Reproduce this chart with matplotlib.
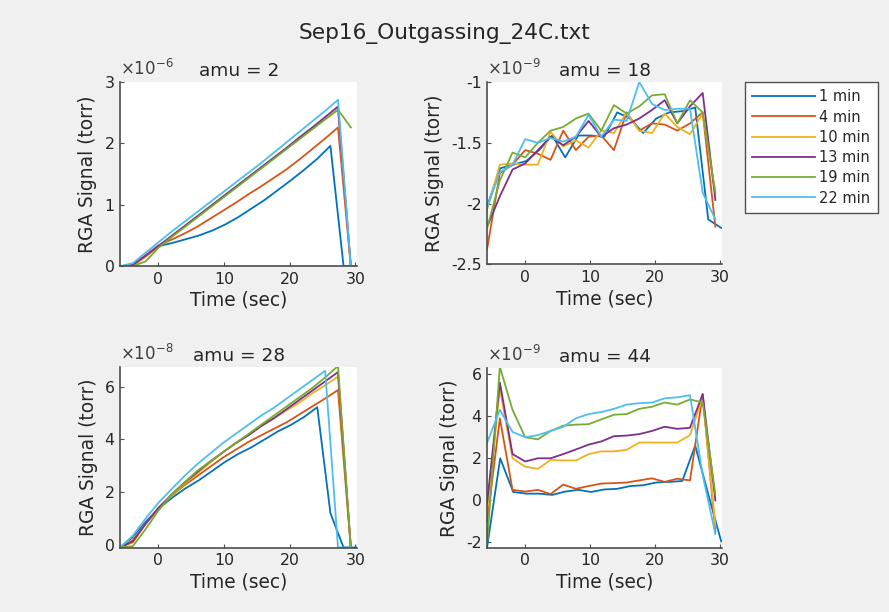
import numpy as np
import matplotlib
matplotlib.use("Agg")
import matplotlib.pyplot as plt

# ================================================
# Data
# ================================================

labels = ["1 min", "4 min", "10 min", "13 min", "19 min", "22 min"]
colors = ["#0072BD", "#D95319", "#EDB120", "#7E2F8E", "#77AC30", "#4DBEEE"]

# scan times (sec); the 1 min run was sampled a bit slower
t_scan = [-5.8, -3.85, -1.9, 0.05, 2.0, 3.95, 5.9, 7.85, 9.8, 11.75, 13.7,
          15.65, 17.6, 19.55, 21.5, 23.45, 25.4, 27.35, 29.3]
t_1min = [-5.8, -3.8, -1.8, 0.2, 2.2, 4.2, 6.2, 8.2, 10.2, 12.2, 14.2,
          16.2, 18.2, 20.2, 22.2, 24.2, 26.2, 28.2, 30.2]

# amu = 2, units of 1e-6 torr
amu2 = [
    [0, 0.02, 0.18, 0.33, 0.38, 0.44, 0.5, 0.58, 0.68, 0.8, 0.94, 1.08, 1.24, 1.4, 1.57, 1.75, 1.96, 0, 0],
    [0, 0.02, 0.18, 0.34, 0.43, 0.53, 0.64, 0.77, 0.9, 1.03, 1.17, 1.3, 1.44, 1.58, 1.74, 1.91, 2.08, 2.26, 0],
    [0, 0.01, 0.15, 0.32, 0.48, 0.64, 0.8, 0.96, 1.12, 1.28, 1.44, 1.6, 1.76, 1.92, 2.08, 2.24, 2.4, 2.55, 0],
    [0, 0.02, 0.17, 0.33, 0.49, 0.65, 0.81, 0.97, 1.13, 1.29, 1.45, 1.61, 1.77, 1.93, 2.1, 2.26, 2.43, 2.6, 0],
    [0, 0, 0.08, 0.3, 0.47, 0.63, 0.79, 0.95, 1.11, 1.27, 1.43, 1.59, 1.75, 1.91, 2.07, 2.23, 2.39, 2.55, 2.26],
    [0, 0.05, 0.22, 0.39, 0.56, 0.72, 0.88, 1.04, 1.2, 1.36, 1.52, 1.68, 1.85, 2.02, 2.19, 2.36, 2.53, 2.71, 0],
]

# amu = 18, units of 1e-9 torr
amu18 = [
    [-2.02, -1.71, -1.68, -1.65, -1.56, -1.44, -1.62, -1.44, -1.44, -1.45, -1.25, -1.3, -1.42, -1.3, -1.25, -1.24, -1.21, -2.13, -2.2],
    [-2.37, -1.75, -1.68, -1.56, -1.59, -1.64, -1.4, -1.56, -1.45, -1.44, -1.56, -1.25, -1.4, -1.34, -1.35, -1.4, -1.34, -1.25, -2.19],
    [-2.05, -1.68, -1.67, -1.68, -1.68, -1.41, -1.53, -1.48, -1.54, -1.4, -1.42, -1.25, -1.4, -1.42, -1.26, -1.37, -1.43, -1.26, -1.92],
    [-2.19, -1.94, -1.72, -1.67, -1.56, -1.45, -1.52, -1.45, -1.32, -1.45, -1.38, -1.35, -1.3, -1.23, -1.15, -1.34, -1.2, -1.09, -1.97],
    [-2.2, -1.81, -1.58, -1.62, -1.5, -1.4, -1.37, -1.3, -1.26, -1.4, -1.19, -1.26, -1.2, -1.11, -1.1, -1.34, -1.15, -1.25, -1.91],
    [-2.03, -1.74, -1.68, -1.47, -1.5, -1.46, -1.49, -1.45, -1.27, -1.45, -1.31, -1.32, -1.0, -1.18, -1.23, -1.22, -1.22, -1.91, -2.13],
]

# amu = 28, units of 1e-8 torr
amu28 = [
    [-0.1, 0.3, 0.9, 1.4, 1.8, 2.15, 2.45, 2.8, 3.15, 3.45, 3.7, 4.0, 4.3, 4.55, 4.85, 5.22, 1.2, -0.1, -0.1],
    [-0.1, 0.1, 0.8, 1.4, 1.85, 2.25, 2.6, 2.95, 3.3, 3.6, 3.9, 4.15, 4.4, 4.65, 4.95, 5.25, 5.55, 5.87, -0.1],
    [-0.1, 0.2, 0.8, 1.35, 1.85, 2.3, 2.7, 3.1, 3.5, 3.85, 4.15, 4.5, 4.8, 5.1, 5.4, 5.75, 6.05, 6.38, -0.1],
    [-0.1, 0.15, 0.8, 1.4, 1.9, 2.35, 2.75, 3.15, 3.5, 3.85, 4.15, 4.5, 4.8, 5.15, 5.5, 5.85, 6.2, 6.55, -0.1],
    [-0.1, -0.05, 0.6, 1.3, 1.9, 2.35, 2.8, 3.15, 3.5, 3.85, 4.2, 4.55, 4.9, 5.25, 5.6, 5.95, 6.35, 6.78, -0.1],
    [-0.1, 0.35, 1.0, 1.6, 2.1, 2.6, 3.05, 3.45, 3.85, 4.2, 4.55, 4.9, 5.2, 5.55, 5.9, 6.25, 6.6, -0.1, -0.1],
]

# amu = 44, units of 1e-9 torr
amu44 = [
    [-2.2, 2.0, 0.4, 0.32, 0.32, 0.26, 0.42, 0.5, 0.4, 0.52, 0.55, 0.68, 0.72, 0.85, 0.88, 0.92, 2.6, 0.3, -1.95],
    [-1.0, 3.9, 0.5, 0.42, 0.5, 0.3, 0.75, 0.55, 0.68, 0.8, 0.82, 0.85, 0.95, 1.05, 0.88, 1.03, 0.95, 5.05, -1.5],
    [-0.45, 5.3, 2.0, 1.6, 1.5, 1.92, 1.9, 1.9, 2.2, 2.33, 2.33, 2.4, 2.75, 2.75, 2.75, 2.75, 3.1, 4.9, -1.2],
    [-0.1, 5.6, 2.2, 1.85, 2.0, 2.0, 2.2, 2.42, 2.65, 2.8, 3.05, 3.08, 3.15, 3.3, 3.5, 3.4, 3.45, 5.05, 0.0],
    [-2.0, 6.35, 4.3, 3.0, 2.9, 3.3, 3.55, 3.6, 3.62, 3.85, 4.07, 4.1, 4.35, 4.45, 4.65, 4.55, 4.8, 4.65, 0.3],
    [2.75, 4.3, 3.25, 3.0, 3.1, 3.3, 3.5, 3.9, 4.1, 4.2, 4.35, 4.55, 4.62, 4.65, 4.85, 4.9, 5.0, 1.2, -1.6],
]

panels = [
    # data, amu, exponent, ylim, yticks
    (amu2, 2, -6, (0, 3), [0, 1, 2, 3]),
    (amu18, 18, -9, (-2.5, -1), [-2.5, -2, -1.5, -1]),
    (amu28, 28, -8, (-0.11, 6.76), [0, 2, 4, 6]),
    (amu44, 44, -9, (-2.25, 6.3), [-2, 0, 2, 4, 6]),
]

# axes boxes in figure fractions (left, bottom, width, height)
boxes = [
    (0.135, 0.565, 0.267, 0.301),
    (0.548, 0.568, 0.264, 0.298),
    (0.135, 0.105, 0.267, 0.296),
    (0.548, 0.105, 0.264, 0.294),
]

txt = "#262626"
plt.rcParams["font.family"] = "DejaVu Sans"

fig = plt.figure(figsize=(8.89, 6.12), dpi=100, facecolor="#f0f0f0")

handles = []
for (data, amu, expo, ylim, yticks), box in zip(panels, boxes):
    ax = fig.add_axes(box)
    ax.set_facecolor("white")
    for i, y in enumerate(data):
        t = t_1min if i == 0 else t_scan
        h, = ax.plot(t, y, color=colors[i], lw=1.3, label=labels[i])
        if amu == 2:
            handles.append(h)

    ax.set_xlim(-5.8, 30.3)
    ax.set_ylim(*ylim)
    ax.set_xticks([0, 10, 20, 30])
    ax.set_yticks(yticks)
    ax.set_yticklabels([("%g" % v) for v in yticks])

    for side in ["top", "right"]:
        ax.spines[side].set_visible(False)
    for side in ["left", "bottom"]:
        ax.spines[side].set_color("#4d4d4d")
        ax.spines[side].set_linewidth(1.2)
    ax.tick_params(direction="in", length=3, width=0.8, colors="#4d4d4d",
                   labelcolor=txt, labelsize=11.3, pad=4)

    ax.set_xlabel("Time (sec)", fontsize=13.4, color=txt, labelpad=3)
    ax.set_ylabel("RGA Signal (torr)", fontsize=13.4, color=txt, labelpad=5)
    ax.set_title("amu = %d" % amu, fontsize=13.3, color=txt, pad=4)
    ax.text(0.0, 1.015, r"$\times10^{%d}$" % expo, transform=ax.transAxes,
            fontsize=12, color="#404040", ha="left", va="bottom")

fig.text(0.5, 0.946, "Sep16_Outgassing_24C.txt", fontsize=15.6,
         color=txt, ha="center", va="center")

leg = fig.legend(handles=handles, loc="upper left",
                 bbox_to_anchor=(0.838, 0.866), borderaxespad=0,
                 fontsize=10.5, handlelength=4.3, handletextpad=0.3,
                 labelspacing=0.36, borderpad=0.5, fancybox=False,
                 framealpha=1)
leg.get_frame().set_edgecolor("#505050")
leg.get_frame().set_linewidth(1.0)
for text in leg.get_texts():
    text.set_color(txt)

fig.savefig("out.png", dpi=100, facecolor=fig.get_facecolor())
